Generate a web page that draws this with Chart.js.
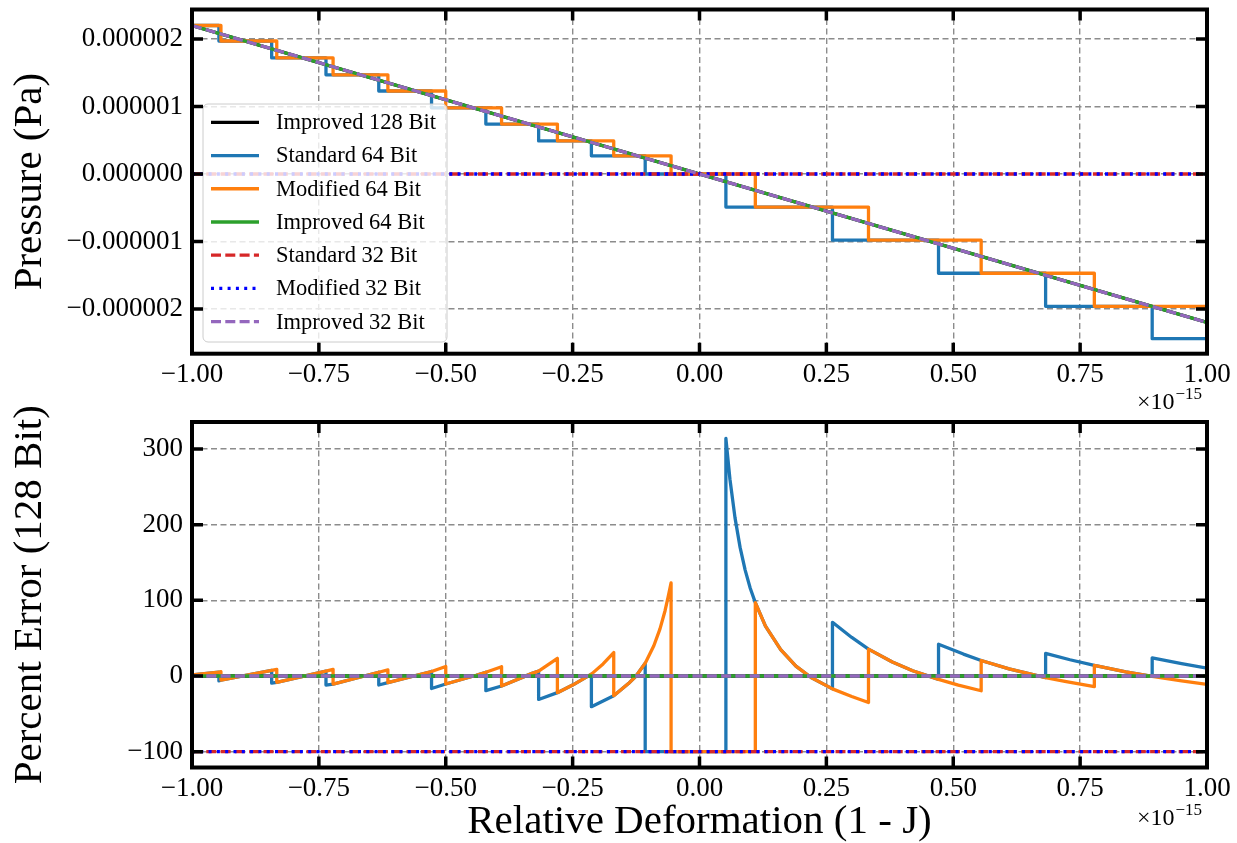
<!DOCTYPE html>
<html>
<head>
<meta charset="utf-8">
<script src="https://cdn.jsdelivr.net/npm/chart.js@4.4.1/dist/chart.umd.min.js"></script>
<style>
    html, body { margin: 0; padding: 0; background: #fff; }
    #wrap { position: relative; width: 1237px; height: 843px; }
    canvas { position: absolute; left: 0; }
    #pressureChart { top: 0; }
    #errorChart { top: 380px; }
</style>
</head>
<body>
<div id="wrap">
    <canvas id="pressureChart" width="1237" height="415"></canvas>
    <canvas id="errorChart" width="1237" height="463"></canvas>
</div>
<script>
// x is the relative deformation in units of 1e-15
const xTicks = [-1, -0.75, -0.5, -0.25, 0, 0.25, 0.5, 0.75, 1];
const pressureTicks = [-2e-6, -1e-6, 0, 1e-6, 2e-6];
const errorTicks = [-100, 0, 100, 200, 300];

// exact pressure (128 bit, and the improved 64 / 32 bit versions on top of it)
const exactX = [-1, 1];
const exactP = [2.2e-6, -2.2e-6];
const flatX = [-1, 1];
const zeroP = [0, 0];

// standard 64 bit: each level holds from its edge up to the next edge
const stdEdges = [-1, -0.947, -0.843, -0.736, -0.632, -0.528, -0.421, -0.317, -0.213, -0.107,
    0.052, 0.262, 0.471, 0.682, 0.892, 1];
const stdLevels = [2.20e-6, 1.97e-6, 1.72e-6, 1.47e-6, 1.23e-6, 0.98e-6, 0.74e-6, 0.49e-6, 0.27e-6, 0,
    -0.49e-6, -0.98e-6, -1.47e-6, -1.96e-6, -2.44e-6, -2.44e-6];

// modified 64 bit
const modEdges = [-1, -0.943, -0.833, -0.722, -0.614, -0.5, -0.39, -0.28, -0.169, -0.056,
    0.11, 0.333, 0.555, 0.778, 1];
const modLevels = [2.20e-6, 1.97e-6, 1.72e-6, 1.47e-6, 1.23e-6, 0.98e-6, 0.74e-6, 0.49e-6, 0.27e-6, 0,
    -0.49e-6, -0.98e-6, -1.47e-6, -1.96e-6, -1.96e-6];

// percent error against 128 bit
const zeroErr = [0, 0];
const fullErr = [-100, -100];

const stdErrX = [-1, -0.947, -0.947, -0.943, -0.843, -0.843, -0.833, -0.736, -0.736, -0.722, -0.632,
    -0.632, -0.614, -0.528, -0.528, -0.5, -0.44, -0.421, -0.421, -0.39, -0.33, -0.317,
    -0.317, -0.28, -0.25, -0.213, -0.213, -0.169, -0.14, -0.125, -0.107, -0.107, 0.052,
    0.052, 0.06, 0.07, 0.08, 0.09, 0.1, 0.11, 0.13, 0.16, 0.19, 0.22, 0.262,
    0.262, 0.3, 0.333, 0.38, 0.42, 0.471,
    0.471, 0.52, 0.555, 0.61, 0.682,
    0.682, 0.73, 0.778, 0.84, 0.892,
    0.892, 0.95, 1];
const stdErrY = [1.3, 5.0, -6.5, -5.3, 7.5, -9.5, -8.4, 6.5, -11.9, -10.6, 5,
    -11.9, -8.8, 6, -16.5, -10.6, 1, 5, -19.4, -13.2, 3.5, 6.5,
    -31, -22, -12, 2.5, -40.5, -26, -10, 0, 17, -100, -100,
    314, 260, 209, 170, 140, 116, 97, 66, 35, 13, -2, -17,
    71, 51, 35.5, 18.5, 7, -4.5,
    42, 29, 20.5, 9.5, -2,
    30, 21.5, 14, 5.5, -0.5,
    24, 16.5, 10.5];

const modErrX = [-1, -0.947, -0.943, -0.943, -0.843, -0.833, -0.833, -0.736, -0.722,
    -0.722, -0.632, -0.614, -0.614, -0.528, -0.5, -0.5, -0.44, -0.421, -0.39,
    -0.39, -0.33, -0.317, -0.28, -0.28, -0.25, -0.213, -0.19, -0.169,
    -0.169, -0.14, -0.125, -0.107, -0.09, -0.078, -0.068, -0.062, -0.056, -0.056, 0.11,
    0.11, 0.13, 0.16, 0.19, 0.22, 0.262, 0.3, 0.333,
    0.333, 0.38, 0.42, 0.471, 0.51, 0.555,
    0.555, 0.61, 0.682, 0.72, 0.778,
    0.778, 0.84, 0.892, 0.95, 1];
const modErrY = [1.3, 5.0, 5.7, -5.3, 7.5, 8.8, -8.4, 6.5, 8.8,
    -10.6, 5, 8, -8.8, 6, 12.5, -10.6, 1, 5, 12.3,
    -13.2, 3.5, 6.5, 23.3, -22, -12, 2.5, 16, 31,
    -26, -10, 0, 17, 40, 62, 86, 104, 123, -100, -100,
    97, 66, 35, 13, -2, -17, -27, -35,
    35.5, 18.5, 7, -4.5, -12, -19.5,
    20.5, 9.5, -2, -7, -14,
    14, 5.5, -0.5, -6.5, -11];

const series = [
    { label: 'Improved 128 Bit', color: '#000000', dash: [] },
    { label: 'Standard 64 Bit', color: '#1f77b4', dash: [] },
    { label: 'Modified 64 Bit', color: '#ff7f0e', dash: [] },
    { label: 'Improved 64 Bit', color: '#2ca02c', dash: [] },
    { label: 'Standard 32 Bit', color: '#d62728', dash: [10, 4.3] },
    { label: 'Modified 32 Bit', color: '#0000ff', dash: [3, 5.3] },
    { label: 'Improved 32 Bit', color: '#9467bd', dash: [10, 4.3] }
];

const SERIF = "'Liberation Serif', 'Times New Roman', serif";
Chart.defaults.font.family = SERIF;
Chart.defaults.color = '#000';

const pts = (xs, ys) => xs.map((x, i) => ({ x: x, y: ys[i] }));
const minus = s => s.replace('-', '\u2212');

function makeDatasets(dataList, stepped) {
    return series.map((s, i) => ({
        label: s.label,
        data: dataList[i],
        borderColor: s.color,
        backgroundColor: s.color,
        borderWidth: 3.3,
        borderDash: s.dash,
        borderJoinStyle: 'round',
        pointRadius: 0,
        fill: false,
        tension: 0,
        stepped: stepped[i] ? 'before' : false,
        order: series.length - i
    }));
}

// spines, inward ticks on all four sides and the x10^-15 offset text
const framePlugin = {
    id: 'frame',
    afterDraw(chart, args, opts) {
        const { ctx, chartArea: a, scales } = chart;
        ctx.save();
        ctx.strokeStyle = '#000';
        ctx.lineWidth = 3.5;
        ctx.setLineDash([]);
        ctx.beginPath();
        scales.x.ticks.forEach(t => {
            const px = scales.x.getPixelForValue(t.value);
            ctx.moveTo(px, a.top); ctx.lineTo(px, a.top + 11);
            ctx.moveTo(px, a.bottom); ctx.lineTo(px, a.bottom - 11);
        });
        scales.y.ticks.forEach(t => {
            const py = scales.y.getPixelForValue(t.value);
            ctx.moveTo(a.left, py); ctx.lineTo(a.left + 11, py);
            ctx.moveTo(a.right, py); ctx.lineTo(a.right - 11, py);
        });
        ctx.stroke();
        ctx.lineWidth = 4;
        ctx.strokeRect(a.left, a.top, a.right - a.left, a.bottom - a.top);

        ctx.fillStyle = '#000';
        ctx.textBaseline = 'alphabetic';
        ctx.textAlign = 'left';
        ctx.font = '24px ' + SERIF;
        ctx.fillText('\u00d710', opts.offsetX, opts.offsetY);
        const w = ctx.measureText('\u00d710').width;
        ctx.font = '17px ' + SERIF;
        ctx.fillText('\u221215', opts.offsetX + w + 1, opts.offsetY - 10);
        ctx.restore();
    }
};

// legend box drawn inside the pressure panel
const legendPlugin = {
    id: 'boxLegend',
    afterDatasetsDraw(chart, args, opts) {
        if (!opts.show) return;
        const ctx = chart.ctx;
        ctx.save();
        ctx.beginPath();
        ctx.roundRect(203, 104, 244, 238, 5);
        ctx.fillStyle = 'rgba(255,255,255,0.8)';
        ctx.fill();
        ctx.lineWidth = 1;
        ctx.strokeStyle = '#cccccc';
        ctx.stroke();
        ctx.font = '22.5px ' + SERIF;
        ctx.textBaseline = 'middle';
        ctx.textAlign = 'left';
        chart.data.datasets.forEach((ds, i) => {
            const y = 122.3 + i * 33.23;
            ctx.beginPath();
            ctx.setLineDash(ds.borderDash);
            ctx.lineWidth = ds.borderWidth;
            ctx.strokeStyle = ds.borderColor;
            ctx.moveTo(211, y);
            ctx.lineTo(259, y);
            ctx.stroke();
            ctx.setLineDash([]);
            ctx.fillStyle = '#000';
            ctx.fillText(ds.label, 276, y + 1);
        });
        ctx.restore();
    }
};

function makeChart(id, cfg) {
    const gridStyle = { color: '#8c8c8c', lineWidth: 1.4, drawTicks: false };
    const gridBorder = { display: false, dash: [6, 3.5] };
    return new Chart(document.getElementById(id), {
        type: 'line',
        data: { datasets: cfg.datasets },
        plugins: [framePlugin, legendPlugin],
        options: {
            responsive: false,
            animation: false,
            devicePixelRatio: 1,
            events: [],
            layout: { padding: { left: 0, right: 30, top: cfg.top, bottom: 0 } },
            plugins: {
                legend: { display: false },
                tooltip: { enabled: false },
                frame: { offsetX: 1137, offsetY: cfg.offsetY },
                boxLegend: { show: cfg.legend }
            },
            scales: {
                x: {
                    type: 'linear',
                    min: -1,
                    max: 1,
                    grid: gridStyle,
                    border: gridBorder,
                    afterBuildTicks: axis => { axis.ticks = xTicks.map(v => ({ value: v })); },
                    afterFit: axis => {
                        axis.height = cfg.xHeight;
                        axis.paddingLeft = 0;
                        axis.paddingRight = 0;
                    },
                    ticks: {
                        font: { size: 27 },
                        padding: 5,
                        autoSkip: false,
                        maxRotation: 0,
                        callback: v => minus(v.toFixed(2))
                    },
                    title: {
                        display: !!cfg.xTitle,
                        text: cfg.xTitle || '',
                        font: { size: 41, lineHeight: 1 },
                        padding: { top: 0, bottom: 0.5 }
                    }
                },
                y: {
                    type: 'linear',
                    min: cfg.yMin,
                    max: cfg.yMax,
                    grid: gridStyle,
                    border: gridBorder,
                    afterBuildTicks: axis => { axis.ticks = cfg.yTicks.map(v => ({ value: v })); },
                    afterFit: axis => {
                        axis.width = 192;
                        axis.paddingTop = 0;
                        axis.paddingBottom = 0;
                    },
                    ticks: {
                        font: { size: 27 },
                        padding: 9,
                        autoSkip: false,
                        callback: cfg.yFormat
                    },
                    title: {
                        display: true,
                        text: cfg.yTitle,
                        font: { size: 41, lineHeight: 1 },
                        padding: { top: 9.5, bottom: 0 }
                    }
                }
            }
        }
    });
}

const exactLine = pts(exactX, exactP);
const zeroLine = pts(flatX, zeroP);

makeChart('pressureChart', {
    datasets: makeDatasets([
        exactLine,
        pts(stdEdges, stdLevels),
        pts(modEdges, modLevels),
        exactLine,
        zeroLine,
        zeroLine,
        exactLine
    ], [false, true, true, false, false, false, false]),
    top: 9.5,
    xHeight: 415 - 353.7,
    yMin: -2.662e-6,
    yMax: 2.437e-6,
    yTicks: pressureTicks,
    yFormat: v => minus(v.toFixed(6)),
    yTitle: 'Pressure (Pa)',
    legend: true,
    offsetY: 409
});

const zeroErrLine = pts(flatX, zeroErr);
const fullErrLine = pts(flatX, fullErr);

makeChart('errorChart', {
    datasets: makeDatasets([
        zeroErrLine,
        pts(stdErrX, stdErrY),
        pts(modErrX, modErrY),
        zeroErrLine,
        fullErrLine,
        fullErrLine,
        zeroErrLine
    ], [false, false, false, false, false, false, false]),
    top: 42,
    xHeight: 463 - 387.5,
    yMin: -120.9,
    yMax: 335.7,
    yTicks: errorTicks,
    yFormat: v => minus(String(v)),
    yTitle: 'Percent Error (128 Bit)',
    xTitle: 'Relative Deformation (1 - J)',
    legend: false,
    offsetY: 445
});
</script>
</body>
</html>
